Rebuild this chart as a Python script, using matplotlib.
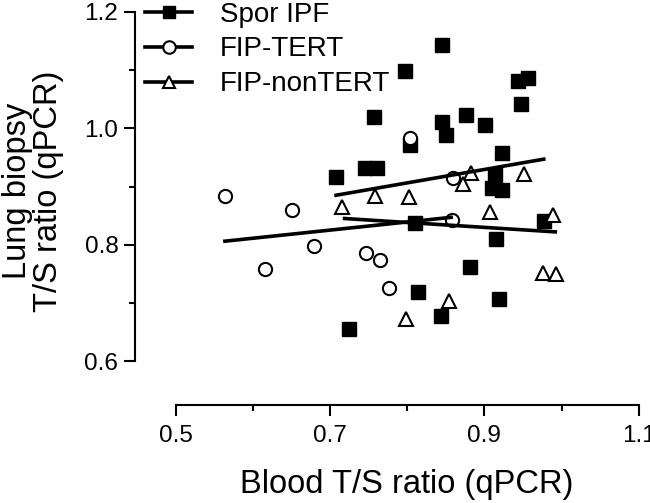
import matplotlib
matplotlib.use("Agg")
import matplotlib.pyplot as plt
from matplotlib.lines import Line2D
from matplotlib.ticker import MultipleLocator

plt.rcParams['font.family'] = ['Liberation Sans', 'DejaVu Sans']

# Spor IPF (filled squares)
spor_x = [0.845, 0.797, 0.944, 0.956, 0.948, 0.757, 0.845, 0.876, 0.901, 0.851,
          0.804, 0.923, 0.708, 0.746, 0.761, 0.914, 0.910, 0.923, 0.810, 0.977,
          0.915, 0.881, 0.814, 0.919, 0.844, 0.725]
spor_y = [1.143, 1.099, 1.082, 1.086, 1.041, 1.019, 1.011, 1.023, 1.005, 0.989,
          0.971, 0.958, 0.916, 0.931, 0.931, 0.920, 0.897, 0.894, 0.838, 0.840,
          0.810, 0.762, 0.719, 0.706, 0.678, 0.655]

# FIP-TERT (open circles)
tert_x = [0.564, 0.651, 0.679, 0.616, 0.747, 0.765, 0.777, 0.804, 0.860, 0.858]
tert_y = [0.883, 0.860, 0.797, 0.758, 0.785, 0.774, 0.725, 0.983, 0.914, 0.842]

# FIP-nonTERT (open triangles)
nontert_x = [0.716, 0.759, 0.802, 0.883, 0.873, 0.952, 0.907, 0.989, 0.976, 0.993,
             0.854, 0.799]
nontert_y = [0.864, 0.883, 0.882, 0.923, 0.904, 0.922, 0.856, 0.851, 0.752, 0.750,
             0.704, 0.673]

# regression lines (end points)
spor_fit_x = [0.708, 0.977]
spor_fit_y = [0.885, 0.947]
tert_fit_x = [0.564, 0.857]
tert_fit_y = [0.806, 0.847]
nontert_fit_x = [0.719, 0.992]
nontert_fit_y = [0.845, 0.822]

labels = ['Spor IPF', 'FIP-TERT', 'FIP-nonTERT']

fig = plt.figure(figsize=(6.5, 5.03), dpi=100)
ax = fig.add_axes([135 / 650, 1 - 405 / 503, 503.7 / 650, 393 / 503])

ms = 9.5
ax.plot(spor_x, spor_y, 's', color='black', ms=ms, clip_on=False, zorder=3)
ax.plot(tert_x, tert_y, 'o', mfc='white', mec='black', mew=1.5, ms=ms,
        clip_on=False, zorder=3)
ax.plot(nontert_x, nontert_y, '^', mfc='white', mec='black', mew=1.5, ms=ms,
        clip_on=False, zorder=3)

ax.plot(spor_fit_x, spor_fit_y, color='black', lw=2.6, zorder=4)
ax.plot(tert_fit_x, tert_fit_y, color='black', lw=2.6, zorder=4)
ax.plot(nontert_fit_x, nontert_fit_y, color='black', lw=2.6, zorder=4)

ax.set_xlim(0.4475, 1.1)
ax.set_ylim(0.5244, 1.2)

for s in ['top', 'right']:
    ax.spines[s].set_visible(False)
for s in ['left', 'bottom']:
    ax.spines[s].set_linewidth(1.5)
ax.spines['left'].set_bounds(0.6, 1.2)
ax.spines['bottom'].set_bounds(0.5, 1.1)

ax.set_xticks([0.5, 0.7, 0.9, 1.1])
ax.set_xticklabels(['0.5', '0.7', '0.9', '1.1'])
ax.set_yticks([0.6, 0.8, 1.0, 1.2])
ax.set_yticklabels(['0.6', '0.8', '1.0', '1.2'])
ax.xaxis.set_minor_locator(MultipleLocator(0.1))
ax.yaxis.set_minor_locator(MultipleLocator(0.1))
ax.tick_params(which='major', length=8, width=1.5, labelsize=17.5)
ax.tick_params(axis='x', which='major', pad=6.5)
ax.tick_params(axis='y', which='major', pad=4)
ax.tick_params(which='minor', length=4.5, width=1.5)

ax.set_xlabel('Blood T/S ratio (qPCR)', fontsize=23.5, va='center')
ax.xaxis.set_label_coords(0.54, -(485 - 405) / 393)
ax.set_ylabel('Lung biopsy\nT/S ratio (qPCR)', fontsize=23.5, va='center',
              linespacing=1.0)
ax.yaxis.set_label_coords((33 - 135) / 503.7, (405 - 191) / 393)

handles = [
    Line2D([], [], color='black', lw=2.6, marker='s', ms=9),
    Line2D([], [], color='black', lw=2.6, marker='o', mfc='white', mec='black',
           mew=1.5, ms=9),
    Line2D([], [], color='black', lw=2.6, marker='^', mfc='white', mec='black',
           mew=1.5, ms=9),
]
ax.legend(handles, labels, loc='upper left', bbox_to_anchor=(145 / 650, 1 - 1.5 / 503),
          bbox_transform=fig.transFigure, frameon=False, borderpad=0,
          borderaxespad=0, fontsize=20, handlelength=1.7, handletextpad=1.0,
          labelspacing=0.32)

fig.savefig('out.png', dpi=100)
